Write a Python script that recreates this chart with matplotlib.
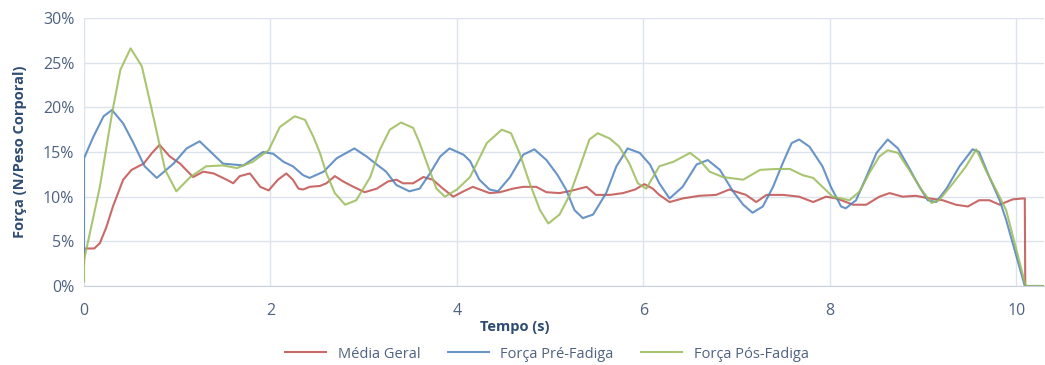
import matplotlib
matplotlib.use("Agg")
import matplotlib.pyplot as plt
from matplotlib.ticker import FuncFormatter, MultipleLocator

plt.rcParams['font.family'] = ['Open Sans', 'DejaVu Sans']

# Média Geral
t_media = [0, 0, 0.11, 0.17, 0.24, 0.31, 0.42, 0.51, 0.64, 0.73, 0.81, 0.92, 1.03, 1.17, 1.28,
           1.39, 1.53, 1.60, 1.67, 1.78, 1.89, 1.98, 2.08, 2.17, 2.24, 2.30, 2.35, 2.42, 2.53,
           2.60, 2.69, 2.78, 2.89, 3.01, 3.14, 3.26, 3.35, 3.42, 3.53, 3.64, 3.74, 3.85, 3.96,
           4.07, 4.17, 4.35, 4.46, 4.60, 4.71, 4.85, 4.96, 5.10, 5.24, 5.39, 5.49, 5.64, 5.78,
           5.91, 6.01, 6.10, 6.17, 6.28, 6.42, 6.60, 6.78, 6.92, 7.10, 7.21, 7.32, 7.50, 7.67,
           7.82, 7.96, 8.07, 8.25, 8.39, 8.53, 8.64, 8.78, 8.92, 9.07, 9.21, 9.35, 9.48, 9.60,
           9.71, 9.82, 9.96, 10.07, 10.09, 10.095, 10.3]
v_media = [2.5, 4.2, 4.2, 4.8, 6.6, 8.9, 11.9, 13.0, 13.7, 14.9, 15.8, 14.5, 13.7, 12.2, 12.8,
           12.6, 11.9, 11.5, 12.3, 12.6, 11.1, 10.7, 11.9, 12.6, 11.9, 10.9, 10.8, 11.1, 11.2,
           11.5, 12.3, 11.7, 11.1, 10.5, 10.9, 11.7, 11.9, 11.5, 11.5, 12.2, 11.9, 10.9, 10.0,
           10.6, 11.1, 10.4, 10.5, 10.9, 11.1, 11.1, 10.5, 10.4, 10.7, 11.1, 10.2, 10.2, 10.4,
           10.8, 11.4, 10.9, 10.2, 9.4, 9.8, 10.1, 10.2, 10.8, 10.2, 9.4, 10.2, 10.2, 10.0,
           9.4, 10.0, 9.8, 9.1, 9.1, 10.0, 10.4, 10.0, 10.1, 9.8, 9.6, 9.1, 8.9, 9.6,
           9.6, 9.1, 9.7, 9.8, 9.8, 0, 0]

# Força Pré-Fadiga
t_pre = [0, 0, 0.10, 0.21, 0.30, 0.42, 0.53, 0.65, 0.78, 0.96, 1.10, 1.24, 1.39, 1.49, 1.71,
         1.92, 2.03, 2.14, 2.24, 2.35, 2.42, 2.57, 2.71, 2.90, 3.03, 3.14, 3.24, 3.35, 3.49,
         3.60, 3.71, 3.82, 3.92, 4.07, 4.14, 4.24, 4.35, 4.44, 4.57, 4.71, 4.83, 4.96, 5.08,
         5.17, 5.26, 5.35, 5.46, 5.60, 5.71, 5.83, 5.96, 6.07, 6.17, 6.28, 6.42, 6.57, 6.69,
         6.82, 6.96, 7.07, 7.17, 7.28, 7.39, 7.50, 7.59, 7.67, 7.78, 7.92, 8.01, 8.12, 8.17,
         8.28, 8.39, 8.50, 8.62, 8.73, 8.85, 8.96, 9.05, 9.14, 9.25, 9.39, 9.53, 9.60, 9.71,
         9.82, 9.89, 10.09, 10.3]
v_pre = [3, 14.3, 16.7, 19.0, 19.7, 18.2, 16.0, 13.4, 12.1, 13.7, 15.4, 16.2, 14.7, 13.7, 13.5,
         15.0, 14.8, 13.9, 13.4, 12.4, 12.1, 12.8, 14.3, 15.4, 14.5, 13.6, 12.8, 11.3, 10.6,
         10.9, 12.6, 14.5, 15.4, 14.7, 14.0, 11.9, 10.8, 10.6, 12.2, 14.7, 15.3, 14.1, 12.4,
         10.8, 8.5, 7.6, 8.0, 10.4, 13.4, 15.4, 14.9, 13.6, 11.5, 9.8, 11.1, 13.6, 14.1,
         13.0, 10.6, 9.1, 8.2, 8.9, 11.1, 13.9, 16.0, 16.4, 15.6, 13.4, 11.1, 8.9, 8.7,
         9.6, 12.2, 14.9, 16.4, 15.4, 13.2, 11.1, 9.6, 9.4, 10.9, 13.4, 15.3, 15.0, 12.2,
         9.6, 7.4, 0, 0]

# Força Pós-Fadiga
t_pos = [0, 0, 0.17, 0.30, 0.39, 0.50, 0.62, 0.71, 0.80, 0.87, 0.99, 1.14, 1.31, 1.49, 1.64,
         1.81, 1.98, 2.10, 2.26, 2.37, 2.46, 2.53, 2.60, 2.69, 2.80, 2.92, 3.07, 3.17, 3.28,
         3.40, 3.53, 3.60, 3.69, 3.78, 3.87, 4.00, 4.14, 4.32, 4.48, 4.58, 4.67, 4.78, 4.89,
         4.98, 5.10, 5.21, 5.32, 5.42, 5.51, 5.64, 5.74, 5.85, 5.94, 6.03, 6.17, 6.32, 6.50,
         6.60, 6.71, 6.85, 7.07, 7.25, 7.42, 7.57, 7.71, 7.82, 7.92, 8.03, 8.21, 8.32, 8.42,
         8.53, 8.62, 8.73, 8.85, 8.98, 9.09, 9.17, 9.32, 9.46, 9.57, 9.67, 9.78, 9.89, 10.10,
         10.3]
v_pos = [0.5, 2.9, 11.1, 19.3, 24.2, 26.6, 24.6, 20.5, 16.3, 13.0, 10.6, 12.2, 13.4, 13.5, 13.2,
         13.9, 15.2, 17.8, 19.0, 18.6, 16.7, 14.9, 12.6, 10.4, 9.1, 9.6, 12.2, 15.2, 17.5,
         18.3, 17.7, 16.0, 13.4, 10.9, 10.0, 10.8, 12.2, 16.0, 17.5, 17.1, 14.9, 11.5, 8.5,
         7.0, 8.0, 10.2, 13.4, 16.4, 17.1, 16.5, 15.6, 13.7, 11.5, 10.9, 13.4, 13.9, 14.9,
         14.1, 12.8, 12.2, 11.9, 13.0, 13.1, 13.1, 12.4, 12.1, 11.1, 10.0, 9.6, 10.6, 12.6,
         14.5, 15.2, 14.9, 13.0, 10.8, 9.3, 9.6, 11.5, 13.4, 15.3, 13.0, 10.8, 8.5, 0,
         0]

x_ticks = [0, 2, 4, 6, 8, 10]

fig = plt.figure(figsize=(10.45, 3.65), dpi=100)
ax = fig.add_axes([0.0804, 0.2164, 0.919, 0.7343])

ax.plot(t_media, v_media, color='#C0504D', lw=1.5, label='Média Geral', alpha=0.85)
ax.plot(t_pre, v_pre, color='#4F81BD', lw=1.5, label='Força Pré-Fadiga', alpha=0.85)
ax.plot(t_pos, v_pos, color='#9BBB59', lw=1.5, label='Força Pós-Fadiga', alpha=0.85)

ax.set_xlim(0, 10.3)
ax.set_ylim(0, 30)
ax.set_xticks(x_ticks)
ax.yaxis.set_major_locator(MultipleLocator(5))
ax.yaxis.set_major_formatter(FuncFormatter(lambda v, p: f'{v:.0f}%'))
ax.grid(True, color='#DCE3EC', lw=1)
ax.set_axisbelow(True)
for s in ['top', 'right', 'left']:
    ax.spines[s].set_visible(False)
ax.spines['bottom'].set_color('#C8D2DE')
ax.tick_params(length=0, labelsize=11.5, labelcolor='#4F6280')
ax.tick_params(axis='y', pad=7)
ax.tick_params(axis='x', pad=12)

ax.set_xlabel('Tempo (s)', fontsize=10.5, fontweight='bold', color='#2E4B72')
ax.xaxis.set_label_coords((515 - 84) / (1045 - 84), -0.125)
ax.set_ylabel('Força (N/Peso Corporal)', fontsize=10.5, fontweight='bold', color='#2E4B72')
ax.yaxis.set_label_coords(-0.059, 0.5)

fig.legend(loc='center', bbox_to_anchor=(547 / 1045, 0.03), ncol=3, frameon=False,
           fontsize=10.5, handlelength=2.8, columnspacing=1.9, labelcolor='#4F6280')

fig.savefig('out.png', dpi=100)
